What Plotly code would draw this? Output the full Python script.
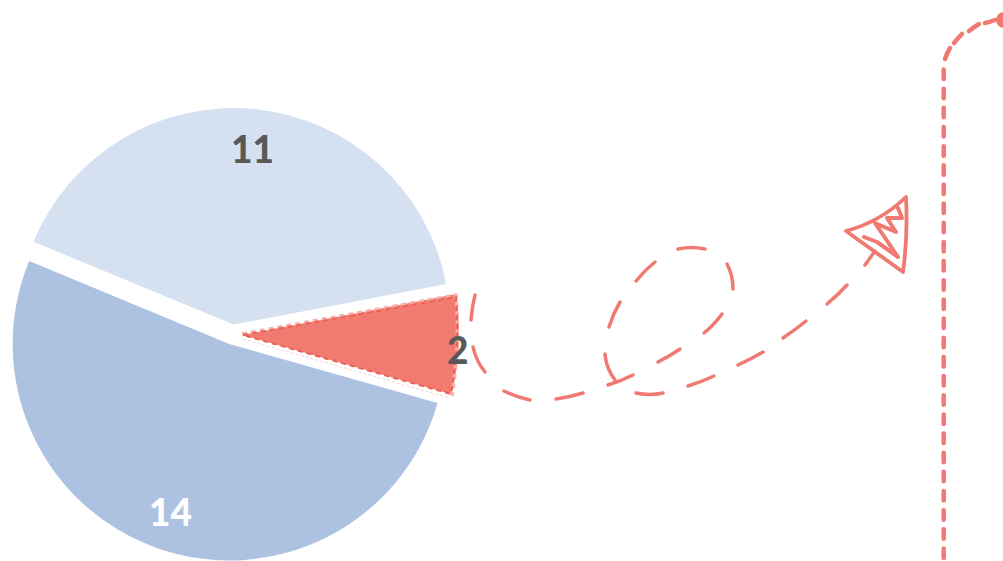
import plotly.graph_objects as go

W, H = 1003, 561

# Data
categories = ["A", "B", "C"]
values = [11, 2, 14]
slice_colors = ["#D5E0F0", "#F17B71", "#ADC2E0"]
label_colors = ["#595959", "#595959", "#FFFFFF"]
label_xy = [(252, 148), (457, 349), (170, 512)]

# Hand-drawn decoration (pixel positions)
ACCENT = "#F07A71"
curve_dashes = [
    ((475, 295), (472, 307), (471, 320)),
    ((473, 347), (476, 361), (485, 372)),
    ((504, 391), (516, 397), (530, 400)),
    ((556, 399), (570, 397), (583, 393)),
    ((608, 385), (621, 381), (633, 375)),
    ((658, 362), (670, 356), (680, 349)),
    ((704, 333), (714, 325), (722, 314)),
    ((733, 289), (733, 275), (727, 264)),
    ((705, 249), (691, 246), (678, 249)),
    ((655, 262), (645, 270), (636, 281)),
    ((620, 302), (613, 314), (609, 327)),
    ((605, 354), (606, 368), (615, 380)),
    ((636, 393), (650, 396), (663, 393)),
    ((688, 386), (701, 382), (714, 376)),
    ((738, 365), (751, 359), (763, 352)),
    ((783, 338), (795, 330), (806, 321)),
    ((827, 304), (838, 295), (847, 285)),
    ((865, 265), (870, 258), (875, 251)),
]
corner_dashes = [
    ((985, 23), (990, 22), (995, 20)),
    ((969, 31), (974, 27), (979, 24)),
    ((954, 43), (958, 38), (962, 34)),
    ((945, 59), (947, 53), (950, 48)),
]
arrow_head = "M846 231 Q880 222 906 197 Q908 235 903 272 Z"
arrow_scribble = [(864, 237), (877, 242), (898, 257), (875, 223), (896, 232), (887, 218), (902, 218), (898, 208)]
wedge_dark = "M243 335 L456 297 Q460 345 451 394 L243 335"
wedge_light_top = "M242 334 L456 295 Q460 345 452 396"
wedge_light_low = "M243 339 L450 398"


def px(x, y):
    return f"{x / W:.5f} {1 - y / H:.5f}"


def path_from(points):
    return "M" + " L".join(px(*p) for p in points)


def shape_path(d):
    # converts "M846 231 Q..." pixel paths into paper coordinates
    out, nums = [], []
    for tok in d.replace("M", " M ").replace("Q", " Q ").replace("L", " L ").replace("Z", " Z ").split():
        if tok in "MQLZ":
            out.append(tok)
        else:
            nums.append(float(tok))
            if len(nums) == 2:
                out.append(px(*nums))
                nums = []
    return " ".join(out)


shapes = []
for seg in curve_dashes:
    a, b, c = seg
    shapes.append(dict(type="path", xref="paper", yref="paper",
                       path=f"M{px(*a)} Q{px(*b)} {px(*c)}",
                       line=dict(color=ACCENT, width=3.5)))
for seg in corner_dashes:
    a, b, c = seg
    shapes.append(dict(type="path", xref="paper", yref="paper",
                       path=f"M{px(*a)} Q{px(*b)} {px(*c)}",
                       line=dict(color=ACCENT, width=4.5)))
shapes.append(dict(type="path", xref="paper", yref="paper", path=shape_path(arrow_head),
                   line=dict(color=ACCENT, width=3.8)))
shapes.append(dict(type="path", xref="paper", yref="paper", path=path_from(arrow_scribble),
                   line=dict(color=ACCENT, width=4)))
shapes.append(dict(type="path", xref="paper", yref="paper", path=f"M{px(943.7, 69.5)} L{px(943.7, 561)}",
                   line=dict(color=ACCENT, width=4.5, dash="9.5px,9.66px")))
shapes.append(dict(type="circle", xref="paper", yref="paper",
                   x0=996 / W, x1=1012 / W, y0=1 - 28 / H, y1=1 - 12 / H,
                   fillcolor=ACCENT, line=dict(width=0)))
shapes.append(dict(type="path", xref="paper", yref="paper", path=shape_path(wedge_light_top),
                   line=dict(color="#F7B0AA", width=3.5, dash="5px,4px")))
shapes.append(dict(type="path", xref="paper", yref="paper", path=shape_path(wedge_light_low),
                   line=dict(color="#FBD5D2", width=1, dash="3px,2px")))
shapes.append(dict(type="path", xref="paper", yref="paper", path=shape_path(wedge_dark),
                   line=dict(color="#EC5F55", width=2, dash="5px,4px")))

fig = go.Figure(go.Pie(
    labels=categories, values=values, sort=False, direction="clockwise",
    rotation=-67.5, pull=[0.046, 0.046, 0.046], textinfo="none", hoverinfo="skip",
    marker=dict(colors=slice_colors, line=dict(width=0)),
    domain=dict(x=[6 / W, 459 / W], y=[0, 453 / H]), showlegend=False,
))

annotations = [
    dict(text=str(v), x=x / W, y=1 - y / H, xref="paper", yref="paper",
         xanchor="center", yanchor="middle", showarrow=False,
         font=dict(family="Lato", size=37, color=c, weight=900))
    for v, c, (x, y) in zip(values, label_colors, label_xy)
]

fig.update_layout(width=W, height=H, margin=dict(l=0, r=0, t=0, b=0),
                  paper_bgcolor="white", shapes=shapes, annotations=annotations)

post = ("document.body.style.margin='0';"
        "document.querySelectorAll('.shapelayer path').forEach(p=>{p.style.strokeLinejoin='round';"
        "if(!p.style.strokeDasharray||p.style.strokeDasharray==='none'||p.style.strokeWidth==='4.5px'){p.style.strokeLinecap='round';}});")
fig.write_html("out.html", post_script=post, config=dict(displayModeBar=False))
